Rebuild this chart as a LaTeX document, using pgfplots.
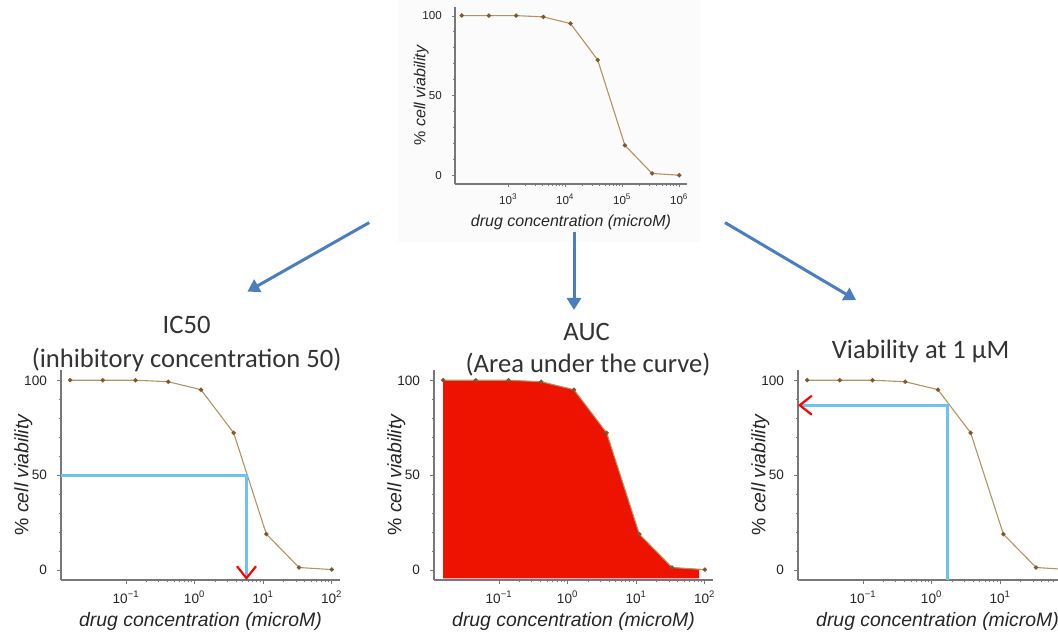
\documentclass[border=0pt]{standalone}
\usepackage{pgfplots}
\pgfplotsset{compat=1.18}
\usepackage{pgfplotstable}
\usetikzlibrary{arrows.meta}
\usepackage{fontspec}
\setmainfont{Liberation Sans}
\newfontfamily\titlefont{Carlito}

\definecolor{curve}{RGB}{178,148,98}
\definecolor{dot}{RGB}{125,90,45}
\definecolor{axgray}{RGB}{120,120,120}
\definecolor{guide}{RGB}{110,195,238}
\definecolor{flow}{RGB}{74,126,190}
\definecolor{auc}{RGB}{238,18,0}

% dose-response: concentration (two unit scales) and % viability
\pgfplotstableread{
clow     chigh     viab
0.01524  152.4     100.2
0.04572  457.2     100.2
0.1372   1372      100.2
0.4115   4115      99.4
1.235    12346     95.2
3.704    37037     72.4
11.11    111111    18.9
33.33    333333    1.3
100      1000000   0.2
}\viability

\pgfplotsset{
  dosestyle/.style={
    scale only axis,
    axis x line*=bottom, axis y line*=left,
    axis line style={draw=axgray, line width=0.6pt, -},
    tick align=outside,
    tick style={draw=axgray, line width=0.4pt},
    major tick length=2pt, minor tick length=1.2pt,
    ymin=-5.3, ymax=105.6,
    ytick={0,50,100}, minor ytick={10,20,30,40,60,70,80,90},
    /pgf/number format/assume math mode=true,
    tick label style={text=black!85},
    yticklabel style={xshift=-1.5pt},
    xlabel={\itshape drug concentration (microM)},
    ylabel={\% \itshape cell viability},
    label style={text=black!85},
  },
  bigstyle/.style={
    dosestyle, width=139.5pt, height=105pt,
    xmin=0.01122, xmax=131.8,
    xtick={0.1,1,10,100},
    xticklabels={10\textsuperscript{−1},10\textsuperscript{0},10\textsuperscript{1},10\textsuperscript{2}},
    tick label style={font=\fontsize{6.8}{7.5}\selectfont},
    label style={font=\fontsize{9.7}{11}\selectfont},
    xlabel style={yshift=2.5pt},
    ylabel style={yshift=-11pt},
  },
}
\tikzset{
  curveline/.style={draw=curve, line width=0.55pt, mark=*, mark size=0.8pt,
    mark options={draw=dot, fill=dot}},
  guideline/.style={draw=guide, line width=1.4pt},
  redbarb/.style={-{Straight Barb[color=red, length=6pt, width=9.5pt, line width=1.1pt]}},
}

\begin{document}
\begin{tikzpicture}
\useasboundingbox (0pt,0pt) rectangle (529pt,315.5pt);
\clip (0pt,0pt) rectangle (529pt,315.5pt);
\fill[black!1.5] (199pt,194.5pt) rectangle (350pt,315.5pt);

% source curve
\begin{axis}[xmode=log, dosestyle, at={(227.5pt,223.5pt)}, anchor=south west,
  width=116pt, height=88.5pt,
  xmin=116.1, xmax=1.365e6,
  xtick={1e3,1e4,1e5,1e6},
  xticklabels={10\textsuperscript{3},10\textsuperscript{4},10\textsuperscript{5},10\textsuperscript{6}},
  tick label style={font=\fontsize{5.8}{6.5}\selectfont},
  label style={font=\fontsize{8}{9}\selectfont},
  xlabel style={yshift=2pt}, ylabel style={yshift=-10pt},
  major tick length=1.6pt, minor tick length=1pt]
\addplot[curveline] table[x=chigh, y=viab] {\viability};
\end{axis}

% IC50
\begin{axis}[xmode=log, bigstyle, at={(30.5pt,25.5pt)}, anchor=south west]
\addplot[curveline] table[x=clow, y=viab] {\viability};
\addplot[guideline, redbarb]
  coordinates {(0.01122,50) (5.7,50) (5.7,-5.3)};
\end{axis}

% AUC
\begin{axis}[xmode=log, bigstyle, at={(217pt,25.5pt)}, anchor=south west]
\addplot[fill=auc, draw=none] coordinates {
  (0.01524,-4.4) (0.01524,100.2) (0.04572,100.2) (0.1372,100.2) (0.4115,99.4)
  (1.235,95.2) (3.704,72.4) (11.11,18.9) (33.33,1.3) (83,0.4) (83,-4.4)};
\addplot[curveline] table[x=clow, y=viab] {\viability};
\end{axis}

% viability at a fixed concentration
\begin{axis}[xmode=log, bigstyle, at={(399pt,25.5pt)}, anchor=south west]
\addplot[curveline] table[x=clow, y=viab] {\viability};
\addplot[guideline, redbarb]
  coordinates {(1.7,-5.3) (1.7,87) (0.01122,87)};
\end{axis}

% flow arrows
\begin{scope}[draw=flow, line width=1.5pt, -{Triangle[length=6pt, width=7pt]}]
\draw (184.6pt,204.2pt) -- (123.7pt,169.7pt);
\draw (287pt,199.7pt) -- (287pt,160.5pt);
\draw (362.5pt,204.2pt) -- (428pt,165.5pt);
\end{scope}

% panel titles
\begin{scope}[text=black!80, font=\titlefont\fontsize{13.3}{15}\selectfont]
\node at (93.3pt,153pt) {IC50};
\node at (93.3pt,135.5pt) {(inhibitory concentration 50)};
\node at (293.3pt,149.6pt) {AUC};
\node at (294pt,133pt) {(Area under the curve)};
\node at (460.3pt,139.6pt) {Viability at 1 µM};
\end{scope}
\end{tikzpicture}
\end{document}
